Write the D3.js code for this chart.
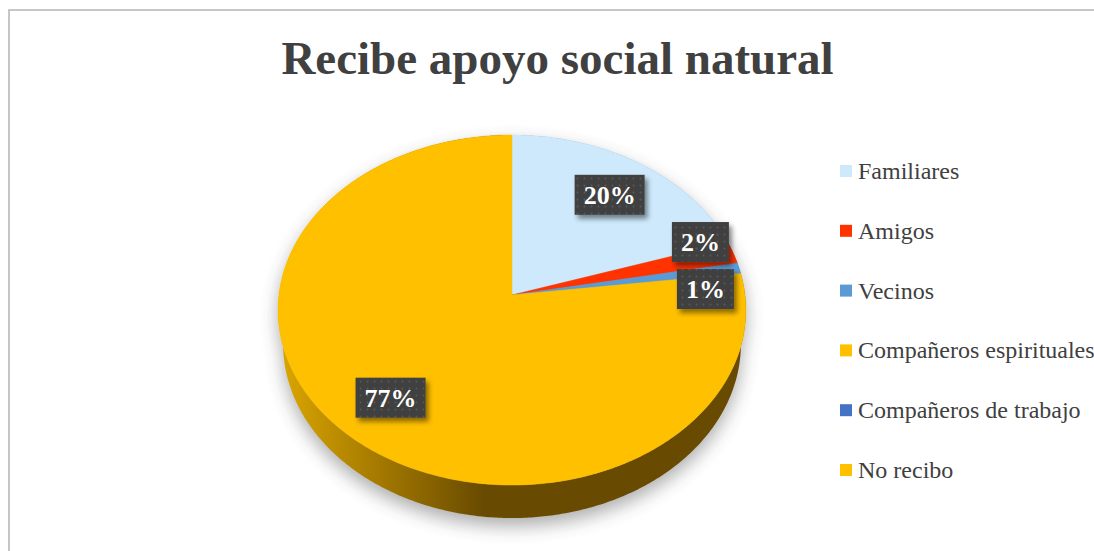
<!DOCTYPE html>
<html><head><meta charset="utf-8">
<script src="https://cdn.jsdelivr.net/npm/d3@7"></script>
<style>body{margin:0;background:#fff} svg{display:block}</style>
</head><body><svg id="chart" width="1094" height="551"></svg>
<script>
// Data
const categories = ["Familiares", "Amigos", "Vecinos", "Compañeros espirituales", "Compañeros de trabajo", "No recibo"];
const values = [20, 2, 1, 77, 0, 0];
const colors = ["#CDE9FB", "#FF3300", "#5B9BD5", "#FFC000", "#4472C4", "#FFC000"];
const titleText = "Recibe apoyo social natural";

const W = 1094, H = 551;
const svg = d3.select("#chart");
const defs = svg.append("defs");

// Frame
svg.append("rect").attr("x", 9).attr("y", 10).attr("width", W + 20).attr("height", H + 20)
  .attr("fill", "#fff").attr("stroke", "#c0c0c0").attr("stroke-width", 1.8);

// Title
svg.append("text").attr("x", 557.5).attr("y", 74).attr("text-anchor", "middle")
  .attr("font-family", "'Liberation Serif', 'Times New Roman', serif").attr("font-weight", "bold")
  .attr("font-size", 47).attr("fill", "#404040").text(titleText);

// 3D perspective projection of the pie plane
const cx = 512, cy = 295;
const tilt = Math.asin(0.7456), sT = Math.sin(tilt), cT = Math.cos(tilt);
const K = 0.1287;          // pie radius relative to camera distance
const F = 233 / K;         // focal length in px
const depth = 0.029;       // pie thickness relative to camera distance
function proj(a, rf, h) {
  const X = K * rf * Math.sin(a), d = -K * rf * Math.cos(a);
  const yc = d * sT + h * cT, zc = 1 - d * cT + h * sT;
  return [cx + F * X / zc, cy + F * yc / zc];
}
const line = d3.line().curve(d3.curveLinear);
function rimPoints(a0, a1, h) {
  const n = Math.max(2, Math.ceil((a1 - a0) / 0.01));
  return d3.range(n + 1).map(i => proj(a0 + (a1 - a0) * i / n, 1, h));
}

const data = categories.map((c, i) => ({ name: c, value: values[i], color: colors[i] }));
const total = d3.sum(values);
const arcs = d3.pie().sort(null).value(d => d.value)(data).filter(d => d.value > 0);

// Soft drop shadow under the pie
const blur = defs.append("filter").attr("id", "pieShadow")
  .attr("x", "-20%").attr("y", "-20%").attr("width", "140%").attr("height", "140%");
blur.append("feGaussianBlur").attr("stdDeviation", 9);
const shadowG = svg.append("g").attr("filter", "url(#pieShadow)").attr("opacity", 0.4)
  .attr("transform", "translate(0,8)");
[0, depth].forEach(h => {
  shadowG.append("path").attr("d", line(rimPoints(0, 2 * Math.PI, h)) + "Z").attr("fill", "#333");
});

// Side wall gradient (lit from the left)
const wallGrad = defs.append("linearGradient").attr("id", "wallYellow")
  .attr("gradientUnits", "userSpaceOnUse").attr("x1", 279).attr("x2", 485).attr("y1", 0).attr("y2", 0);
wallGrad.append("stop").attr("offset", 0).attr("stop-color", "#dca600");
wallGrad.append("stop").attr("offset", 1).attr("stop-color", "#684a00");

// Walls
const wallG = svg.append("g");
arcs.forEach(d => {
  const top = rimPoints(d.startAngle, d.endAngle, 0);
  const bot = rimPoints(d.startAngle, d.endAngle, depth).reverse();
  const fill = d.data.color === "#FFC000" ? "url(#wallYellow)" : d3.color(d.data.color).darker(1.2);
  wallG.append("path").attr("d", line(top.concat(bot)) + "Z").attr("fill", fill);
});

// Top faces
const topG = svg.append("g");
arcs.forEach(d => {
  const pts = [proj(0, 0, 0)].concat(rimPoints(d.startAngle, d.endAngle, 0));
  topG.append("path").attr("d", line(pts) + "Z").attr("fill", d.data.color)
    .attr("stroke", d.data.color).attr("stroke-width", 0.5);
});

// Data labels
const pat = defs.append("pattern").attr("id", "dots").attr("patternUnits", "userSpaceOnUse")
  .attr("width", 7).attr("height", 7);
pat.append("rect").attr("width", 7).attr("height", 7).attr("fill", "#404040");
pat.append("circle").attr("cx", 3.5).attr("cy", 3.5).attr("r", 0.9).attr("fill", "#5a5a5a");
const ds = defs.append("filter").attr("id", "boxShadow")
  .attr("x", "-30%").attr("y", "-30%").attr("width", "160%").attr("height", "170%");
ds.append("feDropShadow").attr("dx", 3).attr("dy", 4).attr("stdDeviation", 2.5)
  .attr("flood-color", "#000").attr("flood-opacity", 0.45);

const pct = d3.format(".0%");
const labels = arcs.map(d => {
  const mid = (d.startAngle + d.endAngle) / 2;
  const frac = d.value / total;
  const rf = frac < 0.05 ? 0.85 : 0.75;
  const [x, y] = proj(mid, rf, 0);
  return { text: pct(frac), x, y, h: 40 };
});
// Separate overlapping labels vertically
for (let iter = 0; iter < 20; iter++) {
  for (let i = 0; i < labels.length; i++) for (let j = i + 1; j < labels.length; j++) {
    const a = labels[i], b = labels[j];
    if (Math.abs(a.x - b.x) < 75) {
      const need = 47, dy = b.y - a.y;
      if (Math.abs(dy) < need) {
        const push = (need - Math.abs(dy)) / 2, sgn = dy >= 0 ? 1 : -1;
        a.y -= push * sgn; b.y += push * sgn;
      }
    }
  }
}
const labG = svg.append("g").attr("font-family", "'Liberation Serif', 'Times New Roman', serif")
  .attr("font-weight", "bold").attr("font-size", 26);
labels.forEach(l => {
  const g = labG.append("g");
  const t = g.append("text").attr("x", l.x).attr("y", l.y + 9).attr("text-anchor", "middle")
    .attr("fill", "#fff").text(l.text);
  const w = t.node().getComputedTextLength() + 18;
  g.insert("rect", "text").attr("x", l.x - w / 2).attr("y", l.y - 20).attr("width", w).attr("height", 40)
    .attr("fill", "url(#dots)").attr("filter", "url(#boxShadow)");
});

// Legend
const legG = svg.append("g").attr("font-family", "'Liberation Serif', 'Times New Roman', serif")
  .attr("font-size", 24).attr("fill", "#404040");
const legY = d3.scalePoint().domain(categories).range([171, 470]);
categories.forEach((c, i) => {
  const y = legY(c);
  legG.append("rect").attr("x", 840).attr("y", y - 6).attr("width", 12).attr("height", 12).attr("fill", colors[i]);
  legG.append("text").attr("x", 858).attr("y", y + 8).text(c);
});
</script></body></html>
